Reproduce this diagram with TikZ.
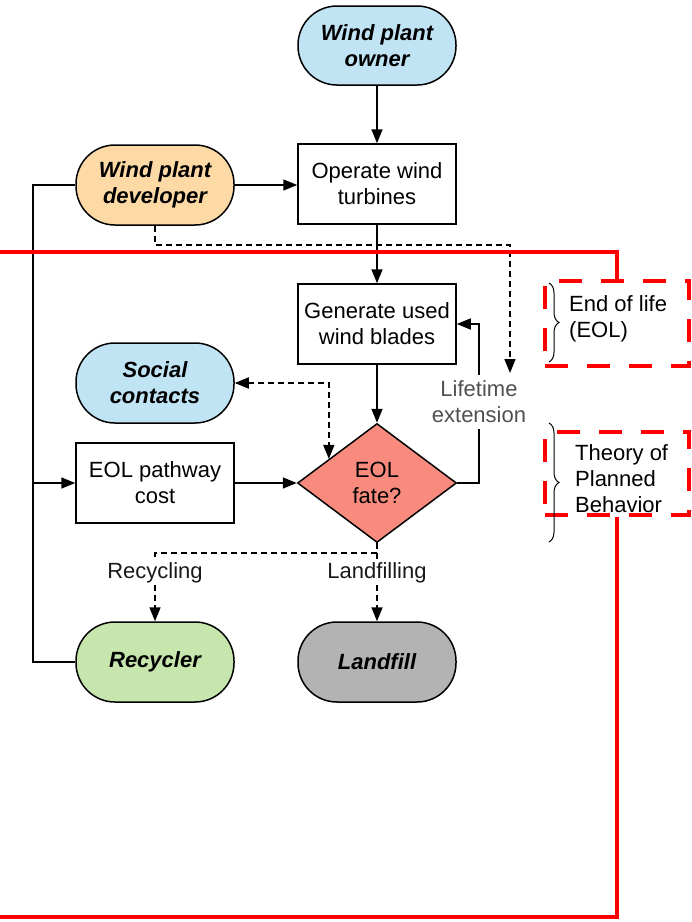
\documentclass[tikz,border=0pt]{standalone}
\usepackage{fontspec}
\setmainfont{Liberation Sans}
\usetikzlibrary{shapes.geometric,arrows.meta,calc,decorations.pathreplacing}

\definecolor{skyfill}{RGB}{193,228,245}
\definecolor{peachfill}{RGB}{253,217,166}
\definecolor{salmonfill}{RGB}{249,139,126}
\definecolor{leaffill}{RGB}{198,230,174}
\definecolor{stonefill}{RGB}{179,179,179}
\definecolor{inkgray}{RGB}{80,80,80}
\definecolor{alarmred}{RGB}{255,0,0}

\tikzset{
  flowtip/.tip={Triangle[length=14pt,width=11pt]},
  basefont/.style={font=\fontsize{22}{26}\selectfont},
  stadium/.style={rectangle, rounded corners=39pt, draw, line width=1.5pt,
    minimum width=158pt, minimum height=80pt, align=center, inner sep=2pt,
    font=\fontsize{22}{26}\selectfont\bfseries\itshape},
  procbox/.style={rectangle, draw, line width=1.5pt, fill=white,
    minimum width=158pt, minimum height=80pt, align=center, inner sep=2pt,
    basefont},
  decision/.style={diamond, draw, line width=1.5pt, fill=salmonfill,
    minimum width=159pt, minimum height=119pt, inner sep=0pt, align=center,
    basefont},
  tag/.style={basefont, align=center, inner sep=2pt},
  solidflow/.style={line width=1.5pt, -{flowtip}},
  plainline/.style={line width=1.5pt},
  dashflow/.style={line width=1.7pt, dash pattern=on 6pt off 4pt, -{flowtip}},
  dashline/.style={line width=1.7pt, dash pattern=on 6pt off 4pt},
  redframe/.style={rectangle, draw=alarmred, line width=4.5pt,
    dash pattern=on 23pt off 19pt},
  redline/.style={draw=alarmred, line width=4.5pt},
  bracket/.style={line width=1pt, decorate, decoration={brace, amplitude=10pt}},
}

\begin{document}
\begin{tikzpicture}[x=1pt,y=-1pt]
\useasboundingbox (0,0) rectangle (692,922);

% actors and process steps
\node[stadium, fill=skyfill, minimum height=79pt] (owner) at (377,45.5) {Wind plant\\owner};
\node[procbox]                 (operate)   at (377,184) {Operate wind\\turbines};
\node[stadium, fill=peachfill] (developer) at (155,185) {Wind plant\\developer};
\node[procbox]                 (generate)  at (377,324) {Generate used\\wind blades};
\node[stadium, fill=skyfill]   (social)    at (155,383) {Social\\contacts};
\node[procbox]                 (cost)      at (155,483) {EOL pathway\\cost};
\node[decision]                (fate)      at (377,483) {EOL\\fate?};
\node[stadium, fill=leaffill]  (recycler)  at (155,662) {Recycler};
\node[stadium, fill=stonefill] (landfill)  at (377,662) {Landfill};

% edge labels
\node[tag, text=inkgray, inner ysep=6pt] (life) at (479,402) {Lifetime\\extension};
\node[tag, text=black!90] (reclab)  at (155,573) {Recycling};
\node[tag, text=black!90] (landlab) at (377,573) {Landfilling};

% helper points
\coordinate (busTop) at (33,185);
\coordinate (busMid) at (33,483);
\coordinate (busBot) at (33,662);
\coordinate (lifeEnd) at (510,373);
\coordinate (fateNW) at ($(fate.west)!0.4!(fate.north)$);
\coordinate (split) at ($(fate.south)+(0,10)$);

% main flow
\draw[solidflow] (owner.south) -- (operate.north);
\draw[solidflow] (developer.east) -- (developer.east -| operate.west);
\draw[solidflow] (operate.south) -- (generate.north);
\draw[solidflow] (generate.south) -- (fate.north);
\draw[solidflow] (cost.east) -- (fate.west);
\draw[plainline] (developer.west) -- (busTop) -- (busBot) -- (recycler.west);
\draw[solidflow] (busMid) -- (cost.west);

% lifetime extension loop
\draw[plainline] (fate.east) -| (life.south);
\draw[solidflow] (life.north) |- (generate.east);

% dashed influences
\draw[dashflow] (developer.south) -- ++(0,19) -| (lifeEnd);
\draw[dashline, {flowtip}-{flowtip}] (social.east) -| (fateNW);
\draw[dashline] (fate.south) -- (split) -| (reclab.north);
\draw[dashflow] (reclab.south) -- (recycler.north);
\draw[dashline] (split) -- (landlab.north);
\draw[dashflow] (landlab.south) -- (landfill.north);

% framework frames
\node[redframe, minimum width=144pt, minimum height=85pt] (eolframe) at (617,323.5) {};
\node[redframe, minimum width=144pt, minimum height=83pt] (tpbframe) at (617,473.5) {};
\draw[redline] (0,252) -| (eolframe.north);
\draw[redline] (tpbframe.south) |- (0,917);

\draw[bracket] (549,283) -- (549,362);
\draw[bracket] (549,423) -- (549,542);
\node[tag, anchor=west, align=left] (eoltext) at (567,319) {End of life\\(EOL)};
\node[tag, anchor=west, align=left] (tpbtext) at (573,479) {Theory of\\Planned\\Behavior};
\end{tikzpicture}
\end{document}
